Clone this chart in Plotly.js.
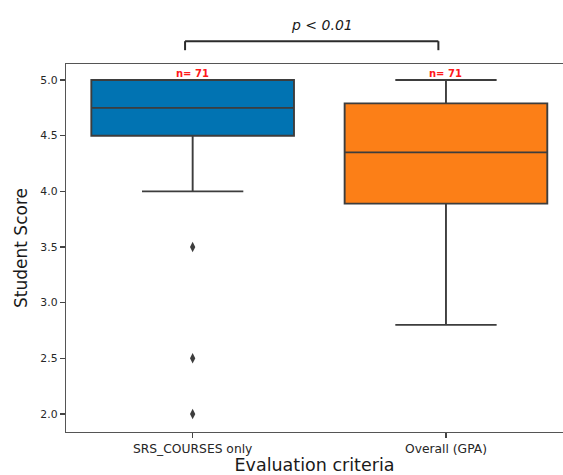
<!DOCTYPE html>
<html>
<head>
<meta charset="utf-8">
<script src="https://cdn.plot.ly/plotly-3.0.1.min.js"></script>
<style>html,body{margin:0;padding:0;background:#fff;}#chart{width:563px;height:475px;}</style>
</head>
<body>
<div id="chart"></div>
<script>
// ---- data ----
const categories = ["SRS_COURSES only", "Overall (GPA)"];
const q1Values = [4.5, 3.89];
const medianValues = [4.75, 4.35];
const q3Values = [5.0, 4.79];
const lowerWhisker = [4.0, 2.8];
const upperWhisker = [5.0, 5.0];
const counts = [71, 71];
const outlierCategory = ["SRS_COURSES only", "SRS_COURSES only", "SRS_COURSES only"];
const outlierValues = [3.5, 2.5, 2.0];
const boxColors = ["#0173b2", "#fc7f17"];
const pText = "p < 0.01";

const edge = "#3d3d3d";
const traces = categories.map((c, i) => ({
  type: "box",
  x: [c],
  q1: [q1Values[i]],
  median: [medianValues[i]],
  q3: [q3Values[i]],
  lowerfence: [lowerWhisker[i]],
  upperfence: [upperWhisker[i]],
  boxpoints: false,
  width: 0.8,
  whiskerwidth: 0.5,
  fillcolor: boxColors[i],
  line: {color: edge, width: 1.9},
  hoverinfo: "skip"
}));
traces.push({
  type: "scatter",
  mode: "markers",
  x: outlierCategory,
  y: outlierValues,
  marker: {symbol: "diamond-tall", size: 7.5, color: edge},
  hoverinfo: "skip"
});

// significance bracket between the two categories (paper y above plot)
const bx0 = 0 - 0.03, bx1 = 1 - 0.03, byTop = 1.062, byBot = 1.0375;
const bracketLine = {color: "#2b2b2b", width: 2};
const shapes = [
  {type: "line", xref: "x", yref: "paper", x0: bx0, x1: bx0, y0: byBot, y1: byTop, line: bracketLine},
  {type: "line", xref: "x", yref: "paper", x0: bx0, x1: bx1, y0: byTop, y1: byTop, line: bracketLine},
  {type: "line", xref: "x", yref: "paper", x0: bx1, x1: bx1, y0: byBot, y1: byTop, line: bracketLine}
];

const annotations = categories.map((c, i) => ({
  x: i, y: upperWhisker[i], xref: "x", yref: "y",
  text: "<b>n= " + counts[i] + "</b>",
  showarrow: false, yanchor: "bottom", yshift: -1,
  font: {family: "DejaVu Sans", size: 10, color: "#ff1a1a"}
}));
annotations.push({
  x: 0.5, xref: "x", y: 1.105, yref: "paper",
  text: "<i>" + pText.replace("<", "&lt;") + "</i>",
  showarrow: false, xshift: 3, yanchor: "middle",
  font: {family: "DejaVu Sans", size: 14, color: "#1a1a1a"}
});

const layout = {
  width: 563, height: 475,
  margin: {l: 66, r: 0, t: 64, b: 43, pad: 0},
  paper_bgcolor: "#fff", plot_bgcolor: "#fff",
  showlegend: false, hovermode: false,
  font: {family: "DejaVu Sans", color: "#262626"},
  xaxis: {
    type: "category", range: [-0.5, 1.462],
    showgrid: false, zeroline: false,
    showline: true, mirror: true, linecolor: "#555", linewidth: 1.3,
    ticks: "outside", ticklen: 5, tickcolor: "#444", tickwidth: 1.2,
    tickfont: {size: 12.3, color: "#262626"},
    title: {text: "Evaluation criteria", font: {size: 17.5, color: "#1a1a1a"}, standoff: 3}
  },
  yaxis: {
    range: [1.838, 5.144], tick0: 2, dtick: 0.5, tickformat: ".1f",
    showgrid: false, zeroline: false,
    showline: true, mirror: true, linecolor: "#555", linewidth: 1.3,
    ticks: "outside", ticklen: 5, tickcolor: "#444", tickwidth: 1.2,
    tickfont: {size: 10.8, color: "#262626"},
    title: {text: "Student Score", font: {size: 17, color: "#1a1a1a"}, standoff: 8}
  },
  shapes: shapes,
  annotations: annotations,
  boxmode: "overlay"
};

Plotly.newPlot("chart", traces, layout, {displayModeBar: false, staticPlot: true});
</script>
</body>
</html>
